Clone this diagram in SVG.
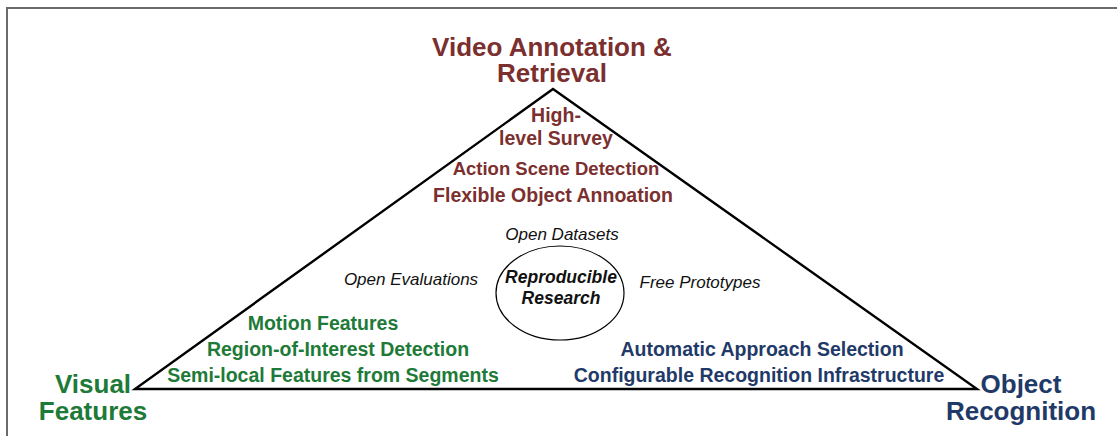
<svg xmlns="http://www.w3.org/2000/svg" width="1117" height="436" viewBox="0 0 1117 436">
  <style>
    .b { font-family: "Liberation Sans", Arial, sans-serif; font-weight: bold; text-anchor: middle; }
    .big { font-size: 26px; }
    .mid { font-size: 19.5px; }
    .video { fill: #7B2F2F; }
    .visual { fill: #1E7A38; }
    .object { fill: #1F3A68; }
    .it { font-family: "Liberation Sans", Arial, sans-serif; font-style: italic; font-size: 17px; fill: #111; text-anchor: middle; }
    .itb { font-weight: bold; font-size: 17.5px; }
  </style>
  <rect width="1117" height="436" fill="#ffffff"/>
  <!-- frame -->
  <rect x="7" y="8" width="1130" height="440" fill="none" stroke="#6a6a6a" stroke-width="2"/>

  <g id="connectors">
    <polygon points="553,89 135,389 977,389" fill="none" stroke="#000" stroke-width="2.4" stroke-linejoin="miter"/>
  </g>

  <g id="video-annotation">
    <text class="b big video" x="552" y="56">Video Annotation &amp;</text>
    <text class="b big video" x="552" y="82">Retrieval</text>
    <text class="b mid video" x="556" y="122">High-</text>
    <text class="b mid video" x="556" y="145">level Survey</text>
    <text class="b video" x="556" y="175" style="font-size:18.5px">Action Scene Detection</text>
    <text class="b mid video" x="553" y="202">Flexible Object Annoation</text>
  </g>

  <g id="visual-features">
    <text class="b big visual" x="93" y="393">Visual</text>
    <text class="b big visual" x="93" y="420">Features</text>
    <text class="b mid visual" x="323" y="330">Motion Features</text>
    <text class="b mid visual" x="338" y="356">Region-of-Interest Detection</text>
    <text class="b mid visual" x="333" y="382">Semi-local Features from Segments</text>
  </g>

  <g id="object-recognition">
    <text class="b big object" x="1021" y="393">Object</text>
    <text class="b big object" x="1021" y="420">Recognition</text>
    <text class="b mid object" x="762" y="356">Automatic Approach Selection</text>
    <text class="b mid object" x="759" y="382">Configurable Recognition Infrastructure</text>
  </g>

  <g id="reproducible-research">
    <ellipse cx="560" cy="293" rx="64" ry="47" fill="none" stroke="#000" stroke-width="1.2"/>
    <text class="it itb" x="561" y="283">Reproducible</text>
    <text class="it itb" x="561" y="304">Research</text>
    <text class="it" x="562" y="240">Open Datasets</text>
    <text class="it" x="411" y="285">Open Evaluations</text>
    <text class="it" x="700" y="288">Free Prototypes</text>
  </g>
</svg>
